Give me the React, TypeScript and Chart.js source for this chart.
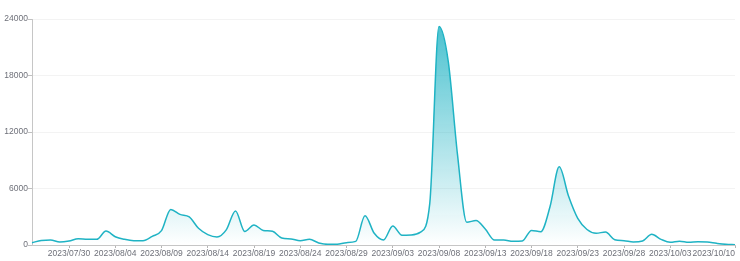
import React, { useEffect, useRef } from 'react';
import { Chart, registerables } from 'chart.js';

Chart.register(...registerables);

const dates = [
  '2023/07/26', '2023/07/27', '2023/07/28', '2023/07/29', '2023/07/30', '2023/07/31',
  '2023/08/01', '2023/08/02', '2023/08/03', '2023/08/04', '2023/08/05', '2023/08/06',
  '2023/08/07', '2023/08/08', '2023/08/09', '2023/08/10', '2023/08/11', '2023/08/12',
  '2023/08/13', '2023/08/14', '2023/08/15', '2023/08/16', '2023/08/17', '2023/08/18',
  '2023/08/19', '2023/08/20', '2023/08/21', '2023/08/22', '2023/08/23', '2023/08/24',
  '2023/08/25', '2023/08/26', '2023/08/27', '2023/08/28', '2023/08/29', '2023/08/30',
  '2023/08/31', '2023/09/01', '2023/09/02', '2023/09/03', '2023/09/04', '2023/09/05',
  '2023/09/06', '2023/09/07', '2023/09/08', '2023/09/09', '2023/09/10', '2023/09/11',
  '2023/09/12', '2023/09/13', '2023/09/14', '2023/09/15', '2023/09/16', '2023/09/17',
  '2023/09/18', '2023/09/19', '2023/09/20', '2023/09/21', '2023/09/22', '2023/09/23',
  '2023/09/24', '2023/09/25', '2023/09/26', '2023/09/27', '2023/09/28', '2023/09/29',
  '2023/09/30', '2023/10/01', '2023/10/02', '2023/10/03', '2023/10/04', '2023/10/05',
  '2023/10/06', '2023/10/07', '2023/10/08', '2023/10/09', '2023/10/10',
];

const values = [
  250, 480, 530, 310, 420, 670, 600, 600, 1480, 880,
  600, 460, 460, 920, 1520, 3780, 3250, 2980, 1770, 1100,
  850, 1600, 3620, 1440, 2120, 1550, 1450, 740, 640, 460,
  600, 220, 70, 90, 250, 380, 3100, 1240, 530, 2010,
  1030, 1060, 1360, 4400, 23200, 19500, 9600, 2420, 2600, 1700,
  530, 530, 390, 420, 1550, 1410, 4060, 8300, 5200, 2830,
  1650, 1250, 1380, 560, 460, 320, 420, 1130, 600, 280,
  390, 280, 350, 320, 180, 70, 30,
];

const yMin = 0;
const yMax = 24000;
const yStep = 6000;

const FONT = { family: '"Liberation Sans", Arial, Helvetica, sans-serif', size: 8.5 };
const LINE_COLOR = '#1fb3c4';

export default function App() {
  const ref = useRef<HTMLCanvasElement>(null);

  useEffect(() => {
    const lastIdx = dates.length - 1;
    const showLabel = (i: number) => (i % 5 === 4 && i < lastIdx - 2) || i === lastIdx;
    const peak = Math.max(...values);

    const chart = new Chart(ref.current as HTMLCanvasElement, {
      type: 'line',
      data: {
        labels: dates,
        datasets: [
          {
            data: values,
            borderColor: LINE_COLOR,
            borderWidth: 1.5,
            pointRadius: 0,
            pointHoverRadius: 0,
            fill: 'origin',
            cubicInterpolationMode: 'monotone',
            backgroundColor: (ctx: any) => {
              const ch = ctx.chart;
              const area = ch.chartArea;
              if (!area) return 'rgba(31,179,196,0.3)';
              const top = ch.scales.y.getPixelForValue(peak);
              const g = ch.ctx.createLinearGradient(0, top, 0, area.bottom);
              g.addColorStop(0, 'rgba(31,179,196,0.8)');
              g.addColorStop(1, 'rgba(31,179,196,0)');
              return g;
            },
          },
        ],
      },
      options: {
        animation: false,
        responsive: true,
        maintainAspectRatio: false,
        layout: { padding: { top: 19, right: 5, left: 0, bottom: 0 } },
        plugins: {
          legend: { display: false },
          tooltip: { enabled: false },
        },
        scales: {
          x: {
            type: 'category',
            offset: false,
            grid: {
              drawOnChartArea: false,
              drawTicks: true,
              tickLength: 3,
              tickColor: (c: any) => (showLabel(c.index) ? '#b5b5b5' : 'rgba(0,0,0,0)'),
            },
            border: { color: '#c6c6c6', width: 1 },
            ticks: {
              autoSkip: false,
              maxRotation: 0,
              minRotation: 0,
              align: 'inner',
              padding: 1,
              color: '#6e7079',
              font: FONT,
              callback: (_v: any, i: number) => (showLabel(i) ? dates[i] : ''),
            },
            afterFit: (s: any) => {
              s.height = 16;
            },
          },
          y: {
            min: yMin,
            max: yMax,
            grid: {
              color: '#f3f3f3',
              lineWidth: 1,
              drawTicks: true,
              tickLength: 4,
              tickColor: '#c0c0c0',
            },
            border: { color: '#c6c6c6', width: 1 },
            ticks: {
              stepSize: yStep,
              padding: 0,
              color: '#6e7079',
              font: FONT,
              callback: (v: any) => String(v),
            },
            afterFit: (s: any) => {
              s.width = 32;
            },
          },
        },
      },
    } as any);

    return () => chart.destroy();
  }, []);

  return (
    <div style={{ position: 'fixed', left: 0, top: 0, width: 740, height: 261, background: '#fff' }}>
      <canvas ref={ref} />
    </div>
  );
}
